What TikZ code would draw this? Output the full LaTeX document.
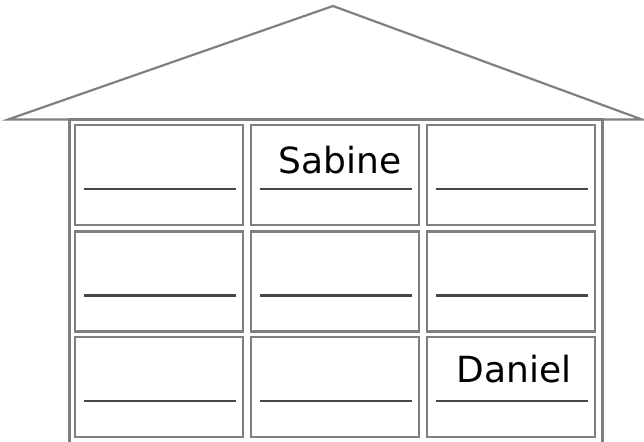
\documentclass[tikz,border=0pt]{standalone}
\usepackage{fontspec}
\setmainfont{DejaVu Sans}
\usetikzlibrary{calc, positioning}

\tikzset{
  wall/.style = {draw = gray, line width = 2.2pt},
  room/.style = {wall, rectangle, minimum width = 168pt, minimum height = 100pt, inner sep = 0pt},
  nameline/.style = {draw = black!72, line width = 2.2pt},
  guest/.style = {anchor = base, font = \fontsize{36}{40}\selectfont}
}

\begin{document}
\begin{tikzpicture}[x=1pt, y=-1pt]
\useasboundingbox (0,0) rectangle (644,441);
\clip (0,0) rectangle (644,441);
\coordinate (apex) at (333,6);
\coordinate (eaveL) at (8,119.5);
\coordinate (eaveR) at (642,119.5);
\draw[wall, line join = miter] (eaveL)--(apex)--(eaveR)--cycle;
\coordinate (hl) at (69.5,119.5);
\coordinate (hr) at (602.5,460);
\draw[wall] (hl) rectangle (hr);

% rooms, each with a line for a name
\foreach \i/\y in {1/175, 2/281.5, 3/387}
  \foreach \j/\x in {1/159, 2/335, 3/511} {
    \node[room] (r\i\j) at (\x,\y) {};
    \draw[nameline] ($(r\i\j.north west)+(10,65)$) -- ($(r\i\j.north east)+(-8,65)$);
  }

\node[guest] (sabine) at ($(r12.north)+(5,50)$) {Sabine};
\node[guest] (daniel) at ($(r33.north)+(3,47)$) {Daniel};
\end{tikzpicture}
\end{document}
